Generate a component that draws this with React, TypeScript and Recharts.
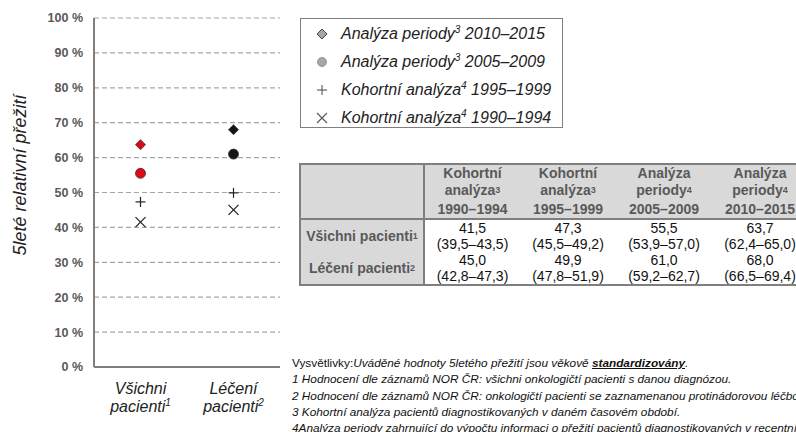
import { ComposedChart, Scatter, XAxis, YAxis, CartesianGrid, Cell } from "recharts";
import { FC } from "react";

const categories = ["Všichni pacienti", "Léčení pacienti"];
const categoryLines = [
  ["Všichni", "pacienti", "1"],
  ["Léčení", "pacienti", "2"],
];
const yTicks = [0, 10, 20, 30, 40, 50, 60, 70, 80, 90, 100];

// 5leté relativní přežití (%)
const period2010 = [63.7, 68.0];
const period2005 = [55.5, 61.0];
const cohort1995 = [47.3, 49.9];
const cohort1990 = [41.5, 45.0];

const ci1990 = ["(39,5–43,5)", "(42,8–47,3)"];
const ci1995 = ["(45,5–49,2)", "(47,8–51,9)"];
const ci2005 = ["(53,9–57,0)", "(59,2–62,7)"];
const ci2010 = ["(62,4–65,0)", "(66,5–69,4)"];

const pointColors = ["#e30613", "#151515"];

const chartData = categories.map((cat, i) => ({
  cat,
  p2010: period2010[i],
  p2005: period2005[i],
  c1995: cohort1995[i],
  c1990: cohort1990[i],
}));

const fmt = (v: number) => v.toFixed(1).replace(".", ",");

const Diamond = (props: any) => {
  const { cx, cy, fill } = props;
  if (cx == null || cy == null) return null;
  const r = 5;
  return (
    <polygon
      points={`${cx},${cy - r} ${cx + r},${cy} ${cx},${cy + r} ${cx - r},${cy}`}
      fill={fill}
      stroke="#333"
      strokeWidth={0.8}
    />
  );
};

const Dot = (props: any) => {
  const { cx, cy, fill } = props;
  if (cx == null || cy == null) return null;
  return <circle cx={cx} cy={cy} r={5} fill={fill} stroke="#333" strokeWidth={0.8} />;
};

const Plus = (props: any) => {
  const { cx, cy } = props;
  if (cx == null || cy == null) return null;
  return (
    <g stroke="#222" strokeWidth={1.2}>
      <line x1={cx - 5} y1={cy} x2={cx + 5} y2={cy} />
      <line x1={cx} y1={cy - 5} x2={cx} y2={cy + 5} />
    </g>
  );
};

const Cross = (props: any) => {
  const { cx, cy } = props;
  if (cx == null || cy == null) return null;
  return (
    <g stroke="#222" strokeWidth={1.2}>
      <line x1={cx - 5} y1={cy - 5} x2={cx + 5} y2={cy + 5} />
      <line x1={cx - 5} y1={cy + 5} x2={cx + 5} y2={cy - 5} />
    </g>
  );
};

const CategoryTick = (props: any) => {
  const { x, y, index } = props;
  const lines = categoryLines[index] || ["", "", ""];
  return (
    <text
      x={x}
      y={y}
      textAnchor="middle"
      fontFamily="Liberation Sans, Arial, sans-serif"
      fontStyle="italic"
      fontSize={16}
      fill="#222"
    >
      <tspan x={x} dy={19}>
        {lines[0]}
      </tspan>
      <tspan x={x} dy={18}>
        {lines[1]}
        <tspan fontSize={10} dy={-6}>
          {lines[2]}
        </tspan>
      </tspan>
    </text>
  );
};

const legendItems = [
  { label: "Analýza periody", sup: "3", years: "2010–2015", marker: "diamond" },
  { label: "Analýza periody", sup: "3", years: "2005–2009", marker: "circle" },
  { label: "Kohortní analýza", sup: "4", years: "1995–1999", marker: "plus" },
  { label: "Kohortní analýza", sup: "4", years: "1990–1994", marker: "cross" },
];

const LegendMarker: FC<{ kind: string }> = ({ kind }) => (
  <svg width={14} height={14} viewBox="-7 -7 14 14" style={{ display: "block" }}>
    {kind === "diamond" && (
      <polygon points="0,-5 5,0 0,5 -5,0" fill="#a6a6a6" stroke="#444" strokeWidth={1} />
    )}
    {kind === "circle" && <circle r={4.5} fill="#a6a6a6" stroke="#888" strokeWidth={0.8} />}
    {kind === "plus" && (
      <g stroke="#555" strokeWidth={1.1}>
        <line x1={-5} y1={0} x2={5} y2={0} />
        <line x1={0} y1={-5} x2={0} y2={5} />
      </g>
    )}
    {kind === "cross" && (
      <g stroke="#555" strokeWidth={1.1}>
        <line x1={-5} y1={-5} x2={5} y2={5} />
        <line x1={-5} y1={5} x2={5} y2={-5} />
      </g>
    )}
  </svg>
);

const tableCols = [
  { l1: "Kohortní", l2: "analýza", sup: "3", l3: "1990–1994", vals: cohort1990, ci: ci1990 },
  { l1: "Kohortní", l2: "analýza", sup: "3", l3: "1995–1999", vals: cohort1995, ci: ci1995 },
  { l1: "Analýza", l2: "periody", sup: "4", l3: "2005–2009", vals: period2005, ci: ci2005 },
  { l1: "Analýza", l2: "periody", sup: "4", l3: "2010–2015", vals: period2010, ci: ci2010 },
];

const rowLabels = [
  { text: "Všichni pacienti", sup: "1" },
  { text: "Léčení pacienti", sup: "2" },
];

const border = "2px solid #7f7f7f";
const sans = "Liberation Sans, Arial, sans-serif";

const App: FC = () => {
  return (
    <div
      style={{
        position: "absolute",
        left: 0,
        top: 0,
        width: 796,
        height: 432,
        overflow: "hidden",
        background: "#fff",
        fontFamily: sans,
      }}
    >
      <div style={{ position: "absolute", left: 0, top: 0 }}>
        <ComposedChart
          width={290}
          height={432}
          data={chartData}
          margin={{ top: 18, right: 10, bottom: 10, left: 0 }}
        >
          <CartesianGrid vertical={false} stroke="#a6a6a6" strokeDasharray="5 3" strokeWidth={1.2} />
          <XAxis
            dataKey="cat"
            height={55}
            padding={{ left: 46.5, right: 46.5 }}
            axisLine={{ stroke: "#7f7f7f", strokeWidth: 2 }}
            tickLine={false}
            tick={<CategoryTick />}
            interval={0}
          />
          <YAxis
            width={94}
            domain={[0, 100]}
            ticks={yTicks}
            tickFormatter={(v: number) => `${v} %`}
            axisLine={{ stroke: "#7f7f7f", strokeWidth: 2 }}
            tickLine={false}
            tickMargin={5}
            tick={{ fill: "#595959", fontSize: 12.5, fontWeight: 700, fontFamily: sans }}
            label={{
              content: () => (
                <text
                  x={20}
                  y={175}
                  transform="rotate(-90 20 175)"
                  textAnchor="middle"
                  dominantBaseline="central"
                  fontFamily={sans}
                  fontStyle="italic"
                  fontSize={18}
                  fill="#222"
                >
                  5leté relativní přežití
                </text>
              ),
            }}
          />
          <Scatter dataKey="p2010" shape={<Diamond />} isAnimationActive={false}>
            {chartData.map((_, i) => (
              <Cell key={i} fill={pointColors[i]} />
            ))}
          </Scatter>
          <Scatter dataKey="p2005" shape={<Dot />} isAnimationActive={false}>
            {chartData.map((_, i) => (
              <Cell key={i} fill={pointColors[i]} />
            ))}
          </Scatter>
          <Scatter dataKey="c1995" shape={<Plus />} isAnimationActive={false} />
          <Scatter dataKey="c1990" shape={<Cross />} isAnimationActive={false} />
        </ComposedChart>
      </div>

      {/* legenda */}
      <div
        style={{
          position: "absolute",
          left: 300,
          top: 18,
          width: 263,
          height: 110,
          border: "1px solid #7f7f7f",
          boxSizing: "border-box",
        }}
      >
        {legendItems.map((it, i) => (
          <div
            key={i}
            style={{
              position: "absolute",
              left: 14,
              top: 15 + i * 28 - 10,
              height: 20,
              display: "flex",
              alignItems: "center",
              whiteSpace: "nowrap",
            }}
          >
            <LegendMarker kind={it.marker} />
            <span style={{ marginLeft: 12, fontStyle: "italic", fontSize: 16, color: "#222" }}>
              {it.label}
              <sup style={{ fontSize: 10, lineHeight: 0 }}>{it.sup}</sup> {it.years}
            </span>
          </div>
        ))}
      </div>

      {/* tabulka */}
      <table
        style={{
          position: "absolute",
          left: 299,
          top: 163,
          borderCollapse: "collapse",
          tableLayout: "fixed",
          width: 124 + 96 * 4,
          fontFamily: sans,
          fontSize: 14,
        }}
      >
        <colgroup>
          <col style={{ width: 124 }} />
          {tableCols.map((_, i) => (
            <col key={i} style={{ width: 96 }} />
          ))}
        </colgroup>
        <tbody>
          <tr style={{ height: 52 }}>
            <td style={{ background: "#d9d9d9", border, padding: 0 }} />
            {tableCols.map((c, i) => (
              <td
                key={i}
                style={{
                  background: "#d9d9d9",
                  borderTop: border,
                  borderBottom: border,
                  padding: 0,
                  textAlign: "center",
                  fontWeight: 700,
                  color: "#595959",
                  lineHeight: "17px",
                }}
              >
                {c.l1}
                <br />
                {c.l2}
                <span style={{ fontSize: 9, position: "relative", top: -2 }}>{c.sup}</span>
                <br />
                {c.l3}
              </td>
            ))}
          </tr>
          {rowLabels.map((r, ri) => (
            <tr key={ri} style={{ height: 33 }}>
              <td
                style={{
                  background: "#d9d9d9",
                  borderLeft: border,
                  borderRight: border,
                  borderBottom: ri === 1 ? border : "none",
                  padding: 0,
                  textAlign: "center",
                  fontWeight: 700,
                  color: "#595959",
                  whiteSpace: "nowrap",
                }}
              >
                {r.text}
                <span style={{ fontSize: 9, position: "relative", top: -2 }}>{r.sup}</span>
              </td>
              {tableCols.map((c, i) => (
                <td
                  key={i}
                  style={{
                    padding: 0,
                    textAlign: "center",
                    color: "#111",
                    lineHeight: "16px",
                    borderBottom: ri === 1 ? border : "none",
                  }}
                >
                  {fmt(c.vals[ri])}
                  <br />
                  {c.ci[ri]}
                </td>
              ))}
            </tr>
          ))}
        </tbody>
      </table>

      {/* vysvětlivky */}
      <div
        style={{
          position: "absolute",
          left: 292,
          top: 355,
          fontFamily: sans,
          fontSize: 11.8,
          lineHeight: "16.3px",
          color: "#111",
          whiteSpace: "nowrap",
        }}
      >
        <div>
          Vysvětlivky:
          <i>
            Uváděné hodnoty 5letého přežití jsou věkově{" "}
            <b style={{ textDecoration: "underline" }}>standardizovány</b>.
          </i>
        </div>
        <div>
          <i>1 Hodnocení dle záznamů NOR ČR: všichni onkologičtí pacienti s danou diagnózou.</i>
        </div>
        <div>
          <i>
            2 Hodnocení dle záznamů NOR ČR: onkologičtí pacienti se zaznamenanou protinádorovou léčbou.
          </i>
        </div>
        <div>
          <i>3 Kohortní analýza pacientů diagnostikovaných v daném časovém období.</i>
        </div>
        <div>
          <i>
            4Analýza periody zahrnující do výpočtu informaci o přežití pacientů diagnostikovaných v
            recentním období.
          </i>
        </div>
      </div>
    </div>
  );
};

export default App;
